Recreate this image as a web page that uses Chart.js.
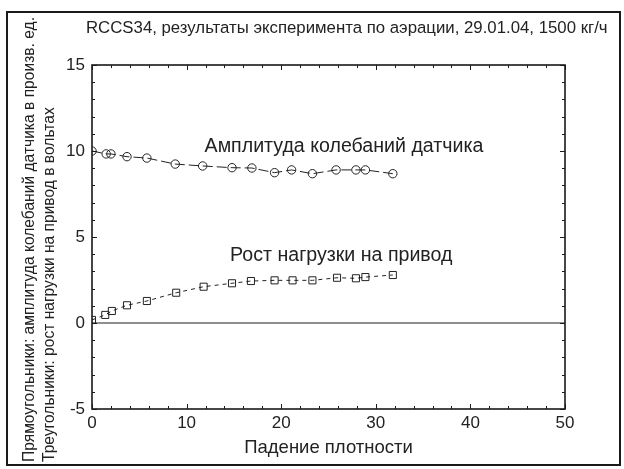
<!DOCTYPE html>
<html>
<head>
<meta charset="utf-8">
<script src="https://cdn.jsdelivr.net/npm/chart.js@4.4.0/dist/chart.umd.min.js"></script>
<style>
  html, body { margin: 0; padding: 0; background: #fff; }
</style>
</head>
<body>
<canvas id="grafico" width="624" height="469"></canvas>
<script>
const titulo = 'RCCS34, результаты эксперимента по аэрации, 29.01.04, 1500 кг/ч';
const tituloEjeX = 'Падение плотности';
const tituloEjeY = [
  'Прямоугольники: амплитуда колебаний датчика в произв. ед.',
  'Треугольники: рост нагрузки на привод в вольтах'
];

// серия с кружками
const xAmplitud = [0, 1.5, 2.0, 3.7, 5.8, 8.8, 11.7, 14.8, 16.9, 19.3, 21.1, 23.3, 25.8, 27.9, 28.9, 31.8];
const yAmplitud = [10.0, 9.83, 9.83, 9.67, 9.59, 9.24, 9.13, 9.03, 9.01, 8.74, 8.9, 8.68, 8.9, 8.9, 8.9, 8.68];

// серия с квадратиками
const xNagruzka = [0, 1.4, 2.1, 3.7, 5.8, 8.9, 11.8, 14.8, 16.8, 19.3, 21.2, 23.3, 25.9, 27.9, 28.9, 31.8];
const yNagruzka = [0.18, 0.47, 0.70, 1.03, 1.28, 1.76, 2.11, 2.31, 2.44, 2.48, 2.48, 2.48, 2.63, 2.6, 2.67, 2.79];

const ticksX = [0, 10, 20, 30, 40, 50];
const ticksY = [-5, 0, 5, 10, 15];

const textosNota = ['Амплитуда колебаний датчика', 'Рост нагрузки на привод'];
const xNota = [11.9, 14.6];
const yNota = [9.95, 3.6];

const fuente = '"Liberation Sans", Arial, sans-serif';
const colorTexto = '#222';

function puntos(xs, ys) {
  return xs.map((x, i) => ({ x: x, y: ys[i] }));
}

// рамка, внутренние засечки, нулевая линия и подписи
const decoracion = {
  id: 'decoracion',
  beforeDatasetsDraw(chart) {
    const ctx = chart.ctx;
    const a = chart.chartArea;
    const sy = chart.scales.y;
    ctx.save();
    ctx.strokeStyle = '#6a6a6a';
    ctx.lineWidth = 1.6;
    ctx.beginPath();
    ctx.moveTo(a.left, sy.getPixelForValue(0));
    ctx.lineTo(a.right, sy.getPixelForValue(0));
    ctx.stroke();
    ctx.restore();
  },
  afterDraw(chart) {
    const ctx = chart.ctx;
    const a = chart.chartArea;
    const sx = chart.scales.x;
    const sy = chart.scales.y;
    ctx.save();
    ctx.strokeStyle = '#1a1a1a';
    ctx.lineWidth = 2;
    ctx.strokeRect(7, 12, 613, 453);
    ctx.lineWidth = 1.6;
    ctx.strokeRect(a.left, a.top, a.right - a.left, a.bottom - a.top);

    ctx.lineWidth = 1;
    ctx.beginPath();
    for (let v = ticksY[0]; v <= ticksY[ticksY.length - 1]; v++) {
      const py = Math.round(sy.getPixelForValue(v)) + 0.5;
      const len = v % 5 === 0 ? 5 : 3;
      ctx.moveTo(a.left, py); ctx.lineTo(a.left + len, py);
      ctx.moveTo(a.right, py); ctx.lineTo(a.right - len, py);
    }
    for (let v = ticksX[0]; v <= ticksX[ticksX.length - 1]; v += 2) {
      const px = Math.round(sx.getPixelForValue(v)) + 0.5;
      const len = v % 10 === 0 ? 5 : 3;
      ctx.moveTo(px, a.bottom); ctx.lineTo(px, a.bottom - len);
      ctx.moveTo(px, a.top); ctx.lineTo(px, a.top + len);
    }
    ctx.stroke();

    ctx.fillStyle = colorTexto;
    ctx.textBaseline = 'alphabetic';
    ctx.textAlign = 'left';
    ctx.font = '16.8px ' + fuente;
    ctx.fillText(titulo, 86, 33);

    ctx.font = '19.6px ' + fuente;
    textosNota.forEach((t, i) => {
      ctx.fillText(t, sx.getPixelForValue(xNota[i]), sy.getPixelForValue(yNota[i]));
    });

    ctx.font = '18.5px ' + fuente;
    ctx.textAlign = 'center';
    ctx.fillText(tituloEjeX, (a.left + a.right) / 2, 453);

    ctx.font = '15.6px ' + fuente;
    ctx.textAlign = 'left';
    ctx.translate(0, 462);
    ctx.rotate(-Math.PI / 2);
    ctx.fillText(tituloEjeY[0], 0, 34);
    ctx.fillText(tituloEjeY[1], 0, 54);
    ctx.restore();
  }
};

new Chart(document.getElementById('grafico'), {
  type: 'scatter',
  data: {
    datasets: [
      {
        label: 'Амплитуда',
        data: puntos(xAmplitud, yAmplitud),
        showLine: true,
        borderColor: '#222',
        borderWidth: 1,
        borderDash: [10, 4],
        backgroundColor: 'rgba(0,0,0,0)',
        pointStyle: 'circle',
        pointRadius: 4.2,
        pointBorderWidth: 1,
        tension: 0
      },
      {
        label: 'Нагрузка',
        data: puntos(xNagruzka, yNagruzka),
        showLine: true,
        borderColor: '#222',
        borderWidth: 1,
        borderDash: [4, 4],
        backgroundColor: 'rgba(0,0,0,0)',
        pointStyle: 'rect',
        pointRadius: 5,
        pointBorderWidth: 1,
        tension: 0
      }
    ]
  },
  options: {
    responsive: false,
    animation: false,
    events: [],
    layout: { padding: { left: 0, right: 59, top: 65, bottom: 0 } },
    plugins: {
      legend: { display: false },
      title: { display: false },
      tooltip: { enabled: false }
    },
    scales: {
      x: {
        type: 'linear',
        min: 0,
        max: 50,
        grid: { display: false, drawTicks: false },
        border: { display: false },
        afterBuildTicks: scale => { scale.ticks = ticksX.map(v => ({ value: v })); },
        afterFit: scale => { scale.height = 60; },
        ticks: { padding: 4, color: colorTexto, font: { family: fuente, size: 17 } }
      },
      y: {
        type: 'linear',
        min: -5,
        max: 15,
        grid: { display: false, drawTicks: false },
        border: { display: false },
        afterBuildTicks: scale => { scale.ticks = ticksY.map(v => ({ value: v })); },
        afterFit: scale => { scale.width = 92; },
        ticks: { padding: 7, color: colorTexto, font: { family: fuente, size: 17 } }
      }
    }
  },
  plugins: [decoracion]
});
</script>
</body>
</html>
